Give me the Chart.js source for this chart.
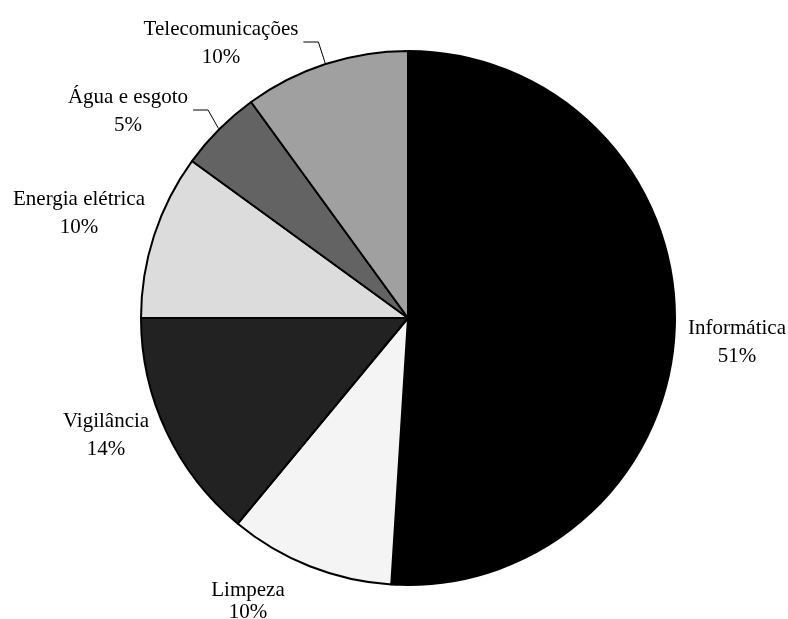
<!DOCTYPE html>
<html lang="pt">
<head>
  <meta charset="UTF-8">
  <title>Distribuição de custos</title>
  <script src="https://cdn.jsdelivr.net/npm/chart.js"></script>
  <style>
    html, body { margin: 0; padding: 0; background: #fff; }
    #pie { display: block; }
  </style>
</head>
<body>

<canvas id="pie" width="788" height="619"></canvas>

<script>
// Categories and shares (%)
const categories = ['Informática', 'Limpeza', 'Vigilância', 'Energia elétrica', 'Água e esgoto', 'Telecomunicações'];
const shares = [51, 10, 14, 10, 5, 10];
const sliceColors = ['#000000', '#f4f4f4', '#222222', '#dcdcdc', '#636363', '#a0a0a0'];

// Label placement, relative to the pie centre (x of the block centre, y of first baseline, line gap)
const labelOffsets = [
  { dx: 329, dy: 16, gap: 28 },
  { dx: -160, dy: 278, gap: 22 },
  { dx: -302, dy: 109, gap: 28 },
  { dx: -329, dy: -113, gap: 28 },
  { dx: -280, dy: -215, gap: 28 },
  { dx: -187, dy: -283, gap: 28 }
];
// Slices whose labels get a leader line to the rim
const withLeader = [false, false, false, false, true, true];

const FONT = '21px "Liberation Serif", "Times New Roman", serif';

const sliceLabels = {
  id: 'sliceLabels',
  afterDraw(chart) {
    const ctx = chart.ctx;
    const arcs = chart.getDatasetMeta(0).data;
    ctx.save();
    ctx.font = FONT;
    ctx.fillStyle = '#000';
    ctx.textAlign = 'center';
    ctx.textBaseline = 'alphabetic';
    arcs.forEach((arc, i) => {
      const pos = labelOffsets[i];
      const cx = arc.x + pos.dx;
      const cy = arc.y + pos.dy;
      ctx.fillText(categories[i], cx, cy);
      ctx.fillText(shares[i] + '%', cx, cy + pos.gap);

      if (withLeader[i]) {
        const w = ctx.measureText(categories[i]).width;
        const sx = cx + w / 2 + 5;
        const sy = cy + 7;
        const mid = (arc.startAngle + arc.endAngle) / 2;
        const ex = arc.x + Math.cos(mid) * (arc.outerRadius + 1);
        const ey = arc.y + Math.sin(mid) * (arc.outerRadius + 1);
        ctx.beginPath();
        ctx.strokeStyle = '#000';
        ctx.lineWidth = 1;
        ctx.moveTo(sx, sy);
        ctx.lineTo(sx + 15, sy);
        ctx.lineTo(ex, ey);
        ctx.stroke();
      }
    });
    ctx.restore();
  }
};

new Chart(document.getElementById('pie').getContext('2d'), {
  type: 'pie',
  data: {
    labels: categories,
    datasets: [{
      data: shares,
      backgroundColor: sliceColors,
      borderColor: '#000',
      borderWidth: 2
    }]
  },
  options: {
    responsive: false,
    animation: false,
    layout: { padding: { left: 140, right: 112, top: 50, bottom: 33 } },
    plugins: {
      legend: { display: false },
      tooltip: { enabled: false }
    }
  },
  plugins: [sliceLabels]
});
</script>

</body>
</html>
